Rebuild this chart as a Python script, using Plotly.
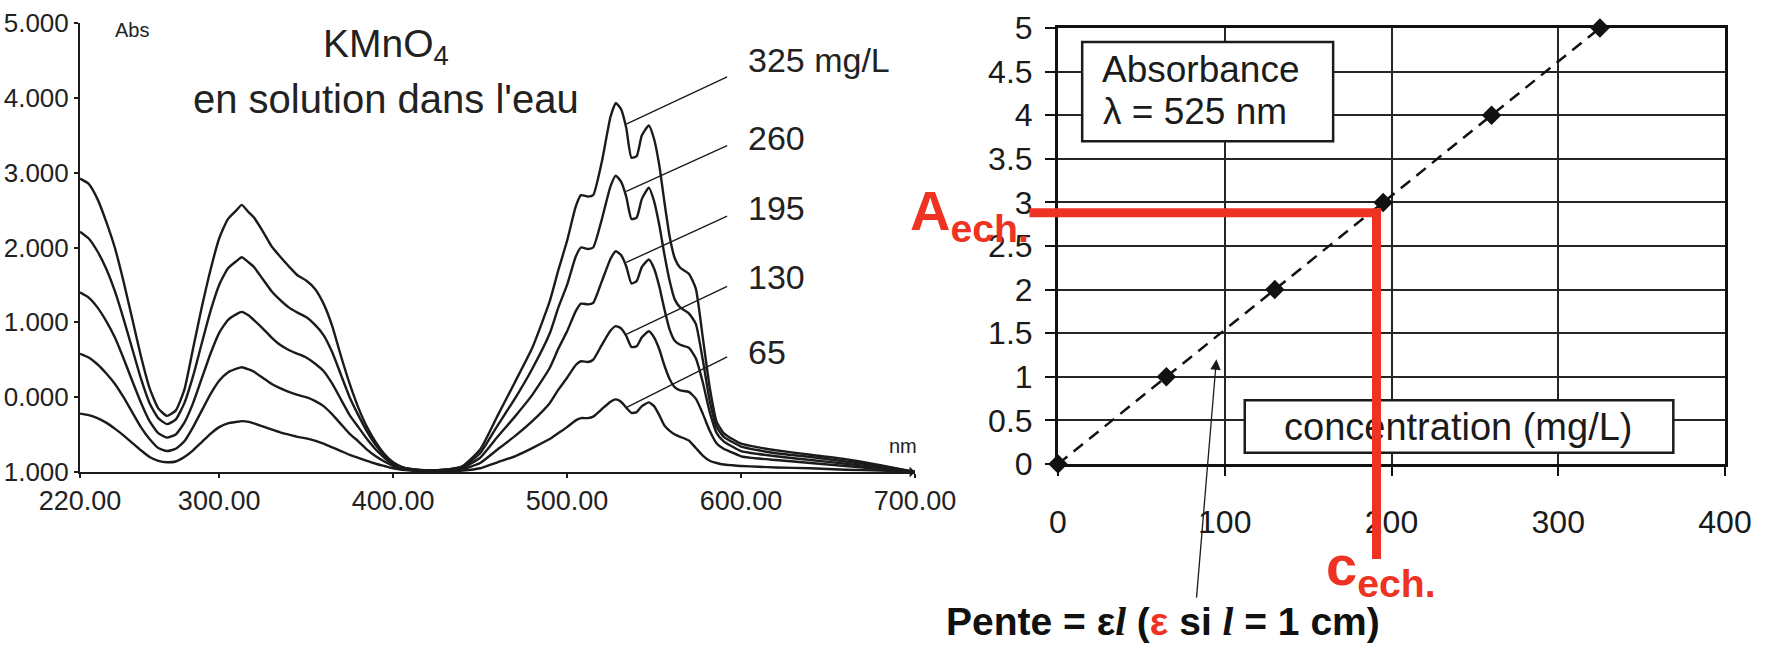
import plotly.graph_objects as go

# ---------------- Spectra of KMnO4 solutions (absorbance vs wavelength) ----------------
wavelength_nm = [
    220, 225, 230, 235, 240, 245, 250, 255, 260, 265,
    270, 275, 280, 285, 290, 295, 300, 305, 310, 313,
    317, 320, 325, 330, 335, 340, 345, 350, 355, 360,
    365, 370, 375, 380, 385, 390, 395, 400, 405, 410,
    420, 430, 440, 450, 460, 470, 480, 490, 495, 500,
    505, 508, 512, 515, 520, 525, 528, 531, 534, 537,
    540, 543, 547, 550, 553, 556, 559, 562, 565, 570,
    574, 578, 582, 586, 590, 595, 600, 610, 620, 640,
    660, 680, 700,
]

abs_325 = [
    3.92, 3.85, 3.65, 3.35, 3.00, 2.55, 2.05, 1.55, 1.12, 0.85,
    0.75, 0.82, 1.10, 1.65, 2.20, 2.70, 3.12, 3.38, 3.50, 3.57,
    3.47, 3.40, 3.22, 3.02, 2.88, 2.75, 2.63, 2.56, 2.45, 2.25,
    1.95, 1.55, 1.18, 0.86, 0.60, 0.40, 0.24, 0.13, 0.07, 0.04,
    0.02, 0.03, 0.08, 0.30, 0.75, 1.20, 1.66, 2.28, 2.70, 3.09,
    3.55, 3.70, 3.68, 3.70, 4.15, 4.75, 4.93, 4.85, 4.60, 4.20,
    4.22, 4.50, 4.63, 4.45, 4.10, 3.60, 3.14, 2.85, 2.73, 2.65,
    2.45, 1.80, 1.13, 0.67, 0.52, 0.44, 0.38, 0.33, 0.29, 0.23,
    0.17, 0.09, 0.00,
]
abs_260 = [
    3.21, 3.12, 2.95, 2.72, 2.42, 2.05, 1.65, 1.25, 0.92, 0.72,
    0.64, 0.70, 0.92, 1.28, 1.72, 2.15, 2.50, 2.72, 2.82, 2.87,
    2.80, 2.74, 2.58, 2.42, 2.30, 2.20, 2.13, 2.07, 1.97, 1.83,
    1.60, 1.30, 1.00, 0.76, 0.54, 0.36, 0.22, 0.12, 0.06, 0.04,
    0.02, 0.03, 0.07, 0.25, 0.62, 0.98, 1.38, 1.85, 2.20, 2.50,
    2.88, 3.00, 2.98, 3.00, 3.38, 3.82, 3.96, 3.88, 3.68, 3.38,
    3.40, 3.65, 3.80, 3.62, 3.30, 2.90, 2.55, 2.30, 2.20, 2.12,
    1.98, 1.50, 0.95, 0.60, 0.47, 0.40, 0.34, 0.29, 0.25, 0.20,
    0.14, 0.08, 0.00,
]
abs_195 = [
    2.40, 2.33, 2.20, 2.02, 1.80, 1.52, 1.22, 0.93, 0.68, 0.52,
    0.46, 0.50, 0.66, 0.92, 1.25, 1.58, 1.86, 2.03, 2.11, 2.14,
    2.09, 2.03, 1.92, 1.80, 1.70, 1.63, 1.58, 1.53, 1.45, 1.35,
    1.18, 0.97, 0.76, 0.60, 0.44, 0.30, 0.19, 0.10, 0.05, 0.03,
    0.02, 0.03, 0.06, 0.19, 0.47, 0.74, 1.03, 1.39, 1.65, 1.88,
    2.15, 2.25, 2.24, 2.26, 2.55, 2.85, 2.95, 2.90, 2.75, 2.52,
    2.55, 2.74, 2.84, 2.72, 2.48, 2.17, 1.90, 1.75, 1.70, 1.66,
    1.52, 1.20, 0.80, 0.52, 0.41, 0.34, 0.28, 0.24, 0.21, 0.16,
    0.11, 0.06, 0.00,
]
abs_130 = [
    1.58, 1.53, 1.44, 1.32, 1.18, 1.00, 0.80, 0.60, 0.44, 0.32,
    0.28, 0.31, 0.41, 0.60, 0.82, 1.04, 1.22, 1.33, 1.38, 1.40,
    1.37, 1.34, 1.26, 1.18, 1.12, 1.07, 1.03, 1.00, 0.95, 0.88,
    0.77, 0.64, 0.51, 0.41, 0.30, 0.21, 0.14, 0.08, 0.04, 0.03,
    0.02, 0.02, 0.04, 0.12, 0.30, 0.48, 0.68, 0.92, 1.10, 1.26,
    1.43, 1.48, 1.47, 1.50, 1.70, 1.89, 1.95, 1.92, 1.82, 1.67,
    1.68, 1.80, 1.88, 1.80, 1.64, 1.42, 1.24, 1.13, 1.09, 1.07,
    0.98, 0.78, 0.55, 0.38, 0.31, 0.26, 0.21, 0.18, 0.16, 0.12,
    0.08, 0.04, 0.00,
]
abs_65 = [
    0.78, 0.76, 0.72, 0.66, 0.58, 0.49, 0.39, 0.29, 0.20, 0.15,
    0.13, 0.14, 0.20, 0.29, 0.40, 0.51, 0.60, 0.65, 0.67, 0.68,
    0.67, 0.65, 0.61, 0.57, 0.53, 0.50, 0.47, 0.45, 0.42, 0.38,
    0.33, 0.28, 0.23, 0.19, 0.15, 0.11, 0.08, 0.05, 0.03, 0.02,
    0.01, 0.01, 0.02, 0.05, 0.13, 0.21, 0.32, 0.44, 0.52, 0.60,
    0.69, 0.72, 0.72, 0.74, 0.84, 0.94, 0.97, 0.94, 0.86, 0.79,
    0.80, 0.88, 0.93, 0.88, 0.76, 0.62, 0.55, 0.50, 0.47, 0.42,
    0.32, 0.22, 0.15, 0.12, 0.10, 0.09, 0.08, 0.07, 0.06, 0.05,
    0.03, 0.02, 0.00,
]
spectra = [abs_325, abs_260, abs_195, abs_130, abs_65]
spectrum_labels = ["325 mg/L", "260", "195", "130", "65"]

left_x_ticks = [220, 300, 400, 500, 600, 700]
left_x_ticktext = ["220.00", "300.00", "400.00", "500.00", "600.00", "700.00"]
left_y_ticks = [0, 1, 2, 3, 4, 5, 6]
left_y_ticktext = ["1.000", "0.000", "1.000", "2.000", "3.000", "4.000", "5.000"]

# ---------------- Calibration line at 525 nm ----------------
conc_mg_L = [0, 65, 130, 195, 260, 325]
abs_525 = [0, 1, 2, 3, 4, 5]
sample_abs = 2.88
sample_conc = 191

right_x_ticks = [0, 100, 200, 300, 400]
right_y_ticks = [0, 0.5, 1, 1.5, 2, 2.5, 3, 3.5, 4, 4.5, 5]

# ---------------- styling ----------------
W, H = 1772, 653
SANS = "Liberation Sans, Arial, sans-serif"
NARROW = "Liberation Sans Narrow, Arial Narrow, Liberation Sans, sans-serif"
INK = "#1b1b1b"
RED = "#ee3322"


def px(xp):
    return xp / W


def py(yp):
    return 1 - yp / H


fig = go.Figure()

for vals in spectra:
    fig.add_trace(go.Scatter(
        x=wavelength_nm, y=vals, mode="lines",
        line=dict(color=INK, width=2.4, shape="spline", smoothing=0.5),
        xaxis="x", yaxis="y", showlegend=False, hoverinfo="skip",
    ))

fig.add_trace(go.Scatter(
    x=conc_mg_L, y=abs_525, mode="lines+markers",
    line=dict(color="#111111", width=2.5, dash="12px,8px"),
    marker=dict(symbol="diamond", size=15, color="#111111"),
    xaxis="x2", yaxis="y2", showlegend=False, hoverinfo="skip", cliponaxis=False,
))

annotations = []
shapes = []

# spectra: title, axis captions, concentration labels with leader lines
annotations += [
    dict(x=396, y=5.68, xref="x", yref="y", text="KMnO<sub>4</sub>", showarrow=False,
         font=dict(family=SANS, size=39, color="#222")),
    dict(x=396, y=4.99, xref="x", yref="y", text="en solution dans l'eau", showarrow=False,
         font=dict(family=SANS, size=40, color="#222")),
    dict(x=250, y=5.9, xref="x", yref="y", text="Abs", showarrow=False,
         font=dict(family=NARROW, size=20, color="#222")),
    dict(x=693, y=0.35, xref="x", yref="y", text="nm", showarrow=False,
         font=dict(family=NARROW, size=20, color="#222")),
    dict(x=700, y=0, xref="x", yref="y", ax=688, ay=0, axref="x", ayref="y", text="",
         showarrow=True, arrowhead=1, arrowsize=1.2, arrowwidth=1.5, arrowcolor=INK),
]
label_y = [5.50, 4.46, 3.53, 2.60, 1.61]
leader_y0 = [5.28, 4.36, 3.42, 2.48, 1.54]
leader_y1 = [4.65, 3.75, 2.80, 1.84, 0.86]
for lab, ly, y0, y1 in zip(spectrum_labels, label_y, leader_y0, leader_y1):
    annotations.append(dict(x=603, y=ly, xref="x", yref="y", text=lab, showarrow=False,
                            xanchor="left", font=dict(family=SANS, size=34, color="#222")))
    shapes.append(dict(type="line", xref="x", yref="y", x0=592, y0=y0, x1=534, y1=y1,
                       line=dict(color=INK, width=1.4)))

# calibration: boxed captions
shapes += [
    dict(type="rect", xref="x2", yref="y2", x0=14.5, x1=165, y0=3.70, y1=4.84,
         fillcolor="white", line=dict(color=INK, width=2.5), layer="above"),
    dict(type="rect", xref="x2", yref="y2", x0=112, x1=369, y0=0.13, y1=0.73,
         fillcolor="white", line=dict(color=INK, width=2.5), layer="above"),
]
annotations += [
    dict(x=25, y=4.52, xref="x2", yref="y2", text="Absorbance", showarrow=False,
         xanchor="left", font=dict(family=SANS, size=37, color=INK)),
    dict(x=26, y=4.04, xref="x2", yref="y2", text="λ = 525 nm", showarrow=False,
         xanchor="left", font=dict(family=SANS, size=37, color=INK)),
    dict(x=240, y=0.43, xref="x2", yref="y2", text="concentration (mg/L)", showarrow=False,
         font=dict(family=SANS, size=38, color=INK)),
    # slope pointer
    dict(x=95, y=1.2, xref="x2", yref="y2", ax=83, ay=-1.55, axref="x2", ayref="y2", text="",
         showarrow=True, arrowhead=2, arrowsize=1.6, arrowwidth=1.3, arrowcolor=INK),
    dict(x=px(1163), y=py(645), xref="paper", yref="paper", showarrow=False,
         text=("<b>Pente = ε<i><span style='font-family:Liberation Serif'>l</span></i> "
               "(<span style='color:" + RED + "'>ε</span> si "
               "<i><span style='font-family:Liberation Serif'>l</span></i> = 1 cm)</b>"),
         font=dict(family=SANS, size=39, color="#111")),
    # sample read-off guides
    dict(x=sample_conc + 2.7, y=sample_abs, ax=-18, ay=sample_abs, xref="x2", yref="y2",
         axref="x2", ayref="y2", text="", showarrow=True, arrowhead=0, arrowwidth=9,
         arrowcolor=RED),
    dict(x=sample_conc, y=-1.09, ax=sample_conc, ay=sample_abs, xref="x2", yref="y2",
         axref="x2", ayref="y2", text="", showarrow=True, arrowhead=0, arrowwidth=9,
         arrowcolor=RED),
    dict(x=px(908), y=py(214), xref="paper", yref="paper", xanchor="left", yanchor="middle",
         text="<b>A<sub>ech.</sub></b>", showarrow=False,
         font=dict(family=SANS, size=56, color=RED)),
    dict(x=px(1324), y=py(569), xref="paper", yref="paper", xanchor="left", yanchor="middle",
         text="<b>c<sub>ech.</sub></b>", showarrow=False,
         font=dict(family=SANS, size=56, color=RED)),
]

fig.update_layout(
    width=W, height=H,
    margin=dict(l=0, r=0, t=0, b=0, autoexpand=False),
    paper_bgcolor="white", plot_bgcolor="white",
    showlegend=False,
    xaxis=dict(domain=[px(80), px(915)], range=[220, 700], anchor="y", automargin=False,
               tickvals=left_x_ticks, ticktext=left_x_ticktext,
               showline=True, linecolor=INK, linewidth=2, ticks="outside", ticklen=4,
               tickwidth=1.5, tickcolor=INK, showgrid=False, zeroline=False,
               tickfont=dict(family=NARROW, size=27, color="#222")),
    yaxis=dict(domain=[py(472), py(23)], range=[0, 6], anchor="x", automargin=False,
               tickvals=left_y_ticks, ticktext=left_y_ticktext,
               showline=True, linecolor=INK, linewidth=2, ticks="outside", ticklen=4,
               tickwidth=1.5, tickcolor=INK, showgrid=False, zeroline=False,
               tickfont=dict(family=NARROW, size=26, color="#222")),
    xaxis2=dict(domain=[px(1058), px(1725)], range=[0, 400], anchor="y2", automargin=False,
                tickvals=right_x_ticks, showgrid=True, gridcolor="#262626", gridwidth=2,
                showline=True, mirror=True, linecolor="#111", linewidth=3,
                ticks="outside", ticklen=9, tickwidth=2, tickcolor="#111",
                ticklabelstandoff=19, zeroline=False,
                tickfont=dict(family=SANS, size=32, color="#1a1a1a")),
    yaxis2=dict(domain=[py(464), py(28)], range=[0, 5], anchor="x2", automargin=False,
                tickvals=right_y_ticks, showgrid=True, gridcolor="#262626", gridwidth=2,
                showline=True, mirror=True, linecolor="#111", linewidth=3,
                ticks="outside", ticklen=10, tickwidth=2, tickcolor="#111",
                ticklabelstandoff=6, zeroline=False,
                tickfont=dict(family=SANS, size=32, color="#1a1a1a")),
    annotations=annotations,
    shapes=shapes,
)

fig.write_html("out.html")
